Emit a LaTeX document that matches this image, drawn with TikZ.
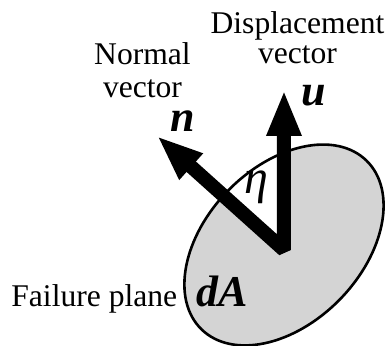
\documentclass[tikz,border=0pt]{standalone}
\usepackage{fontspec}
\setmainfont{Liberation Serif}
\usepackage{tikz}
\usetikzlibrary{arrows.meta,calc}
\definecolor{planefill}{HTML}{D4D4D4}

\begin{document}
\begin{tikzpicture}[
    x=0.5pt,y=0.5pt,
    lbl/.style={inner sep=0pt,align=center,font=\fontsize{15.8}{15}\selectfont},
    sym/.style={inner sep=0pt,font=\fontsize{22}{24}\selectfont\bfseries\itshape},
    vec/.style={line width=7pt,line join=bevel,{Triangle[length=23pt,width=16pt]}-{Triangle[length=23pt,width=16pt]}}
]
\useasboundingbox (0,0) rectangle (388,346);
\coordinate (O) at (284,96);
\coordinate (utip) at (284,256);
\coordinate (ntip) at (157,210);

% failure plane, white between the two vectors
\fill[planefill] (284,101) ellipse [x radius=118,y radius=78,rotate=45.6];
\begin{scope}
\clip (284,101) ellipse [x radius=118,y radius=78,rotate=45.6];
\fill[white] (O) -- ($(O)!2!(ntip)$) -- ($(O)!2!(utip)$) -- cycle;
\end{scope}
\draw[line width=1.3pt] (284,101) ellipse [x radius=118,y radius=78,rotate=45.6];

\draw[vec] (ntip) -- (O) -- (utip);

\node[lbl,anchor=north] (disp) at (297.5,335) {Displacement\\vector};
\node[lbl,anchor=north,font=\fontsize{15.8}{16.5}\selectfont] (norm) at (142.5,304) {Normal\\vector};
\node[lbl,anchor=base west] (fail) at (11,39) {Failure plane};
\node[sym,anchor=base west] (dA) at (196,39) {dA};
\node[sym,anchor=base,text height=0.5em,text depth=0pt] (ulbl) at (314,240) {u};
\node[sym,anchor=base,text height=0.5em,text depth=0pt] (nlbl) at (182.5,214) {n};
\node[inner sep=0pt,font=\fontsize{24}{26}\selectfont\itshape,anchor=base] (eta) at (256.5,152) {η};
\end{tikzpicture}
\end{document}
